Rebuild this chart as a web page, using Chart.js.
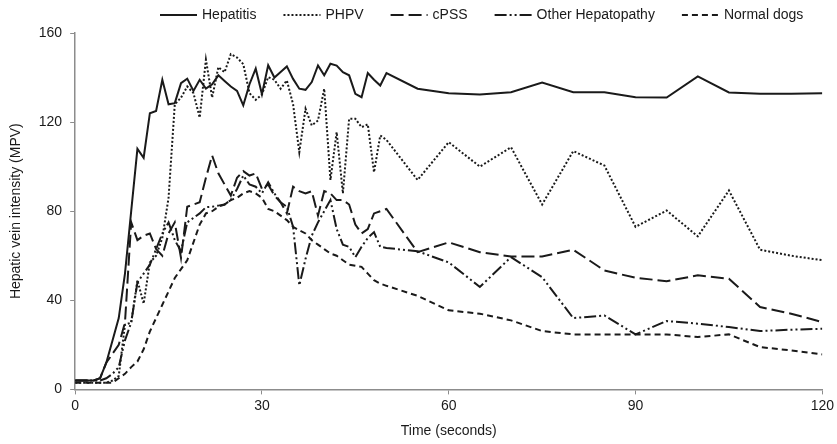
<!DOCTYPE html>
<html>
<head>
<meta charset="utf-8">
<script src="https://cdn.jsdelivr.net/npm/chart.js@4.4.0/dist/chart.umd.min.js"></script>
<style>
    html, body { margin: 0; padding: 0; background: #ffffff; }
    #wrap { width: 837px; height: 444px; }
</style>
</head>
<body>
<div id="wrap"><canvas id="veinChart"></canvas></div>
<script>

/*==================================================
DATA
==================================================*/

const timeSeconds = [
    0, 1, 2, 3, 4, 5, 6, 7, 8, 9,
    10, 11, 12, 13, 14, 15, 16, 17, 18, 19,
    20, 21, 22, 23, 24, 25, 26, 27, 28, 29,
    30, 31, 32, 33, 34, 35, 36, 37, 38, 39,
    40, 41, 42, 43, 44, 45, 46, 47, 48, 49,
    50, 55, 60, 65, 70, 75, 80, 85, 90, 95,
    100, 105, 110, 115, 120
];

const hepatitis = [
    4, 4, 4, 4, 5, 12, 22, 32, 52, 80,
    108, 104, 124, 125, 139, 128, 128.5, 137.5, 139.5, 134,
    139, 135, 137, 141, 138.5, 136, 134, 127.5, 137, 144,
    132.5, 145.5, 140, 142.5, 145, 139.4, 135, 134.5, 138, 145.4,
    141, 146.2, 145.4, 142.4, 141, 132.7, 131.2, 142, 139, 136.4,
    142, 135, 133, 132.4, 133.4, 137.8, 133.4, 133.4, 131.2, 131,
    140.5, 133.3, 132.7, 132.7, 133
];

const phpv = [
    3, 3, 3, 3, 3, 3, 4, 6, 29, 30,
    49, 38.5, 57, 60, 68, 86, 128, 131, 136, 133,
    122, 148, 131, 144.7, 142.4, 150.5, 149, 146, 133, 130,
    132.4, 140.2, 139, 135, 138.7, 128, 106.5, 126, 118.5, 120.7,
    135, 94, 115.5, 88, 121.5, 121.5, 117.7, 119, 97.5, 114,
    112, 94, 111, 100, 108.7, 83, 107, 100.5, 73, 80.3,
    68.7, 89.3, 62.7, 60, 58
];

const cpss = [
    4, 4, 4, 4, 5, 12, 16, 20, 30, 75,
    67, 69, 70, 63, 60, 70, 75, 59, 82, 83,
    84, 95, 105, 97, 92, 87, 95, 98, 96, 97,
    90, 92, 87, 84, 79, 91, 89, 88, 89, 78,
    89, 88, 85, 85, 83, 74, 70, 72, 79, 80,
    81, 61.6, 66, 61.6, 59.7, 59.7, 62.7, 53.4, 50.1, 48.6,
    51.2, 49.7, 37, 34, 30.2
];

const otherHepatopathy = [
    4, 4, 4, 4, 4, 5, 7, 10, 22, 30,
    48, 52, 56, 63, 70, 75, 67, 62, 75, 77,
    79, 81.8, 82, 82.5, 83, 85, 90, 96, 92, 91,
    88, 93, 88, 84, 82, 73, 46.7, 58.6, 69, 75,
    80, 85, 72, 65, 64, 59.4, 64, 68, 70.6, 64,
    63.5, 62, 57, 46, 59.4, 50.4, 32, 33.2, 24.7, 30.7,
    29.5, 28, 26.2, 26.8, 27.2
];

const normalDogs = [
    3, 3, 3, 3, 3, 3, 3, 5, 7, 10,
    12.5, 18, 26, 32, 38, 44, 50, 54, 58, 66,
    74, 79, 80, 82, 83, 85, 86, 88, 89, 88,
    86, 81, 80, 78, 76, 73, 71.4, 70, 67, 65,
    63, 61, 60, 58, 56, 55.5, 55, 52, 49, 47.5,
    46.5, 42, 35.5, 34, 31, 26.2, 24.7, 24.7, 24.7, 24.7,
    23.5, 24.7, 19, 17.5, 15.7
];

const seriesNames = ["Hepatitis", "PHPV", "cPSS", "Other Hepatopathy", "Normal dogs"];

const xTicks = [0, 30, 60, 90, 120];
const yTicks = [0, 40, 80, 120, 160];

/*==================================================
HELPERS
==================================================*/

const ink = "#1a1a1a";
const axisGrey = "#8c8c8c";
const fontFamily = "'Liberation Sans', Arial, sans-serif";

function toPoints(values) {

    return timeSeconds.map((t, i) => ({ x: t, y: values[i] }));

}

function makeSeries(label, values, dash) {

    return {

        label: label,

        data: toPoints(values),

        borderColor: ink,

        backgroundColor: ink,

        borderWidth: 2,

        borderDash: dash,

        pointRadius: 0,

        tension: 0,

        fill: false

    };

}

/*==================================================
LEGEND (line samples with the dataset dash)
==================================================*/

const lineLegend = {

    id: "lineLegend",

    afterDraw(chart) {

        const c = chart.ctx;

        const sampleLength = 37;
        const textGap = 5;
        const itemGap = 27;
        const y = 15;

        let x = 160;

        c.save();

        c.font = "14px " + fontFamily;
        c.textBaseline = "middle";
        c.fillStyle = ink;

        chart.data.datasets.forEach(ds => {

            c.strokeStyle = ds.borderColor;
            c.lineWidth = ds.borderWidth;
            c.setLineDash(ds.borderDash || []);

            c.beginPath();
            c.moveTo(x, y);
            c.lineTo(x + sampleLength, y);
            c.stroke();

            c.setLineDash([]);

            const textX = x + sampleLength + textGap;

            c.fillText(ds.label, textX, y);

            x = textX + c.measureText(ds.label).width + itemGap;

        });

        c.restore();

    }

};

/*==================================================
CHART
==================================================*/

const ctx = document.getElementById("veinChart");

new Chart(ctx, {

    type: "line",

    data: {

        datasets: [

            makeSeries(seriesNames[0], hepatitis, []),

            makeSeries(seriesNames[1], phpv, [2, 2]),

            makeSeries(seriesNames[2], cpss, [13, 5]),

            makeSeries(seriesNames[3], otherHepatopathy, [12, 3, 2, 3, 2, 3]),

            makeSeries(seriesNames[4], normalDogs, [6, 4])

        ]

    },

    plugins: [lineLegend],

    options: {

        responsive: true,

        maintainAspectRatio: false,

        animation: false,

        layout: {

            padding: { top: 33, right: 14, left: 8, bottom: 4 }

        },

        plugins: {

            tooltip: { enabled: false },

            legend: { display: false }

        },

        scales: {

            x: {

                type: "linear",

                min: 0,

                max: 120,

                afterBuildTicks: axis => {

                    axis.ticks = xTicks.map(v => ({ value: v }));

                },

                grid: {

                    display: true,

                    drawOnChartArea: false,

                    drawTicks: true,

                    tickLength: 5,

                    color: axisGrey

                },

                border: { display: true, color: axisGrey, width: 1.5 },

                ticks: {

                    color: ink,

                    font: { family: fontFamily, size: 14 },

                    padding: 3,

                    maxRotation: 0

                },

                title: {

                    display: true,

                    text: "Time (seconds)",

                    color: ink,

                    font: { family: fontFamily, size: 14 },

                    padding: { top: 6, bottom: 0 }

                }

            },

            y: {

                min: 0,

                max: 160,

                afterBuildTicks: axis => {

                    axis.ticks = yTicks.map(v => ({ value: v }));

                },

                grid: {

                    display: true,

                    drawOnChartArea: false,

                    drawTicks: true,

                    tickLength: 5,

                    color: axisGrey

                },

                border: { display: true, color: axisGrey, width: 1.5 },

                ticks: {

                    color: ink,

                    font: { family: fontFamily, size: 14 },

                    padding: 8

                },

                title: {

                    display: true,

                    text: "Hepatic vein intensity (MPV)",

                    color: ink,

                    font: { family: fontFamily, size: 14 },

                    padding: { top: 0, bottom: 6 }

                }

            }

        }

    }

});

</script>
</body>
</html>
